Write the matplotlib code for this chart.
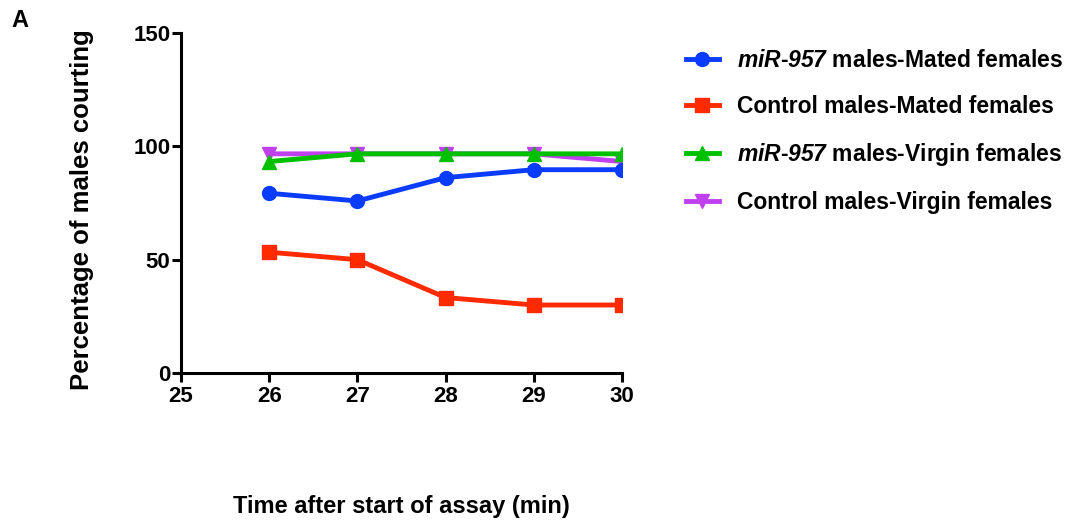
import matplotlib
matplotlib.use('Agg')
import matplotlib.pyplot as plt

# -----------------------------------------------------------------------
# Data
# -----------------------------------------------------------------------
minutes = [26, 27, 28, 29, 30]

mir_mated     = [79.3, 75.9, 86.2, 89.7, 89.7]
ctrl_mated    = [53.3, 50.0, 33.3, 30.0, 30.0]
mir_virgin    = [93.3, 96.7, 96.7, 96.7, 96.7]
ctrl_virgin   = [96.7, 96.7, 96.7, 96.7, 93.3]

labels = [
    r"$miR$-$957$ males-Mated females",
    "Control males-Mated females",
    r"$miR$-$957$ males-Virgin females",
    "Control males-Virgin females",
]

x_ticks = [25, 26, 27, 28, 29, 30]
y_ticks = [0, 50, 100, 150]

# -----------------------------------------------------------------------
# Style
# -----------------------------------------------------------------------
plt.rcParams['font.family'] = ['Liberation Sans', 'DejaVu Sans']
plt.rcParams['font.weight'] = 'bold'
# mathtext is used only for the italic gene name (letters + digits)
plt.rcParams['mathtext.fontset'] = 'custom'
plt.rcParams['mathtext.it'] = 'Liberation Sans:italic:bold'
plt.rcParams['mathtext.rm'] = 'Liberation Sans:italic:bold'

fig = plt.figure(figsize=(10.76, 5.25), dpi=100)
ax = fig.add_axes([0.1682, 0.2895, 0.4099, 0.6476])

# purple drawn first so green lies on top of it
ax.plot(minutes, ctrl_virgin, color='#c040f0', lw=3.5, marker='v', ms=10,
        label=labels[3], zorder=2)
ax.plot(minutes, mir_virgin, color='#00c000', lw=3.5, marker='^', ms=10,
        label=labels[2], zorder=3)
ax.plot(minutes, mir_mated, color='#0a3cff', lw=3.5, marker='o', ms=10,
        label=labels[0], zorder=4)
ax.plot(minutes, ctrl_mated, color='#ff2a00', lw=3.5, marker='s', ms=10,
        label=labels[1], zorder=4)

ax.set_xlim(25, 30)
ax.set_ylim(0, 150)
ax.set_xticks(x_ticks)
ax.set_yticks(y_ticks)
ax.tick_params(width=2.2, length=6.5, labelsize=16, direction='out')
ax.tick_params(axis='y', pad=1)
ax.tick_params(axis='x', pad=3)
for side in ('top', 'right'):
    ax.spines[side].set_visible(False)
for side in ('left', 'bottom'):
    ax.spines[side].set_linewidth(2.2)
for lbl in ax.get_xticklabels() + ax.get_yticklabels():
    lbl.set_fontweight('bold')

ax.set_ylabel("Percentage of males courting", fontsize=18.5, fontweight='bold')
ax.yaxis.set_label_coords(-0.198, 0.48)
ax.set_xlabel("Time after start of assay (min)", fontsize=17, fontweight='bold')
ax.xaxis.set_label_coords(0.5, -0.36)

fig.text(0.011, 0.982, "A", fontsize=17, fontweight='bold', va='top')

# legend in the original order
handles, hl = ax.get_legend_handles_labels()
order = [2, 3, 1, 0]
fig.legend([handles[i] for i in order], [hl[i] for i in order],
           loc='upper left', bbox_to_anchor=(0.618, 0.946), frameon=False,
           fontsize=16.5, handlelength=1.45, labelspacing=1.0, handletextpad=0.8)

plt.savefig("out.png", dpi=100)
plt.close()
